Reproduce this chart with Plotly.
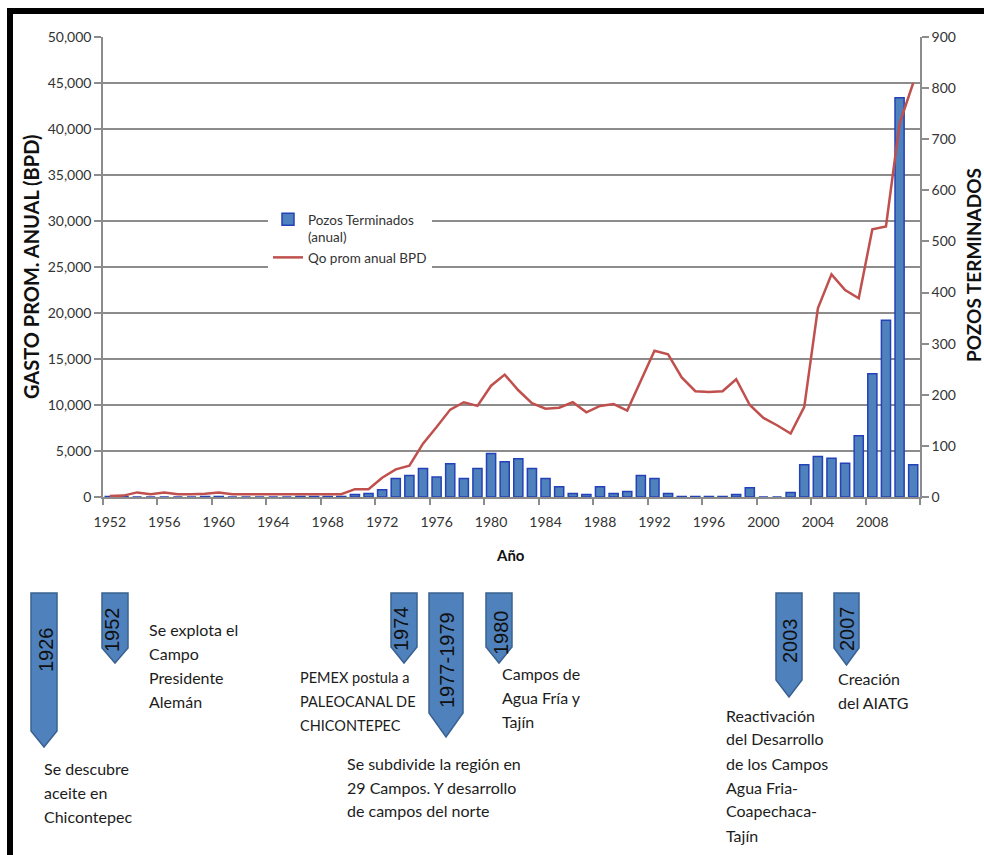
import plotly.graph_objects as go

# ---- Data -------------------------------------------------------------
years = list(range(1952, 2012))

# Average annual oil rate (BPD)
qo_bpd = [100, 150, 500, 300, 500, 300, 300, 350, 500, 300,
          300, 300, 300, 300, 300, 300, 300, 300, 850, 850,
          2100, 3000, 3400, 5800, 7600, 9500, 10300, 9900, 12100, 13300,
          11600, 10200, 9600, 9700, 10300, 9200, 9900, 10100, 9400, 12700,
          15900, 15500, 13000, 11500, 11400, 11500, 12800, 10000, 8600, 7800,
          6900, 9800, 20500, 24200, 22500, 21600, 29100, 29400, 40600, 45000]

# Wells completed per year
pozos = [1, 1, 0, 0, 0, 0, 0, 1, 1, 0,
         0, 0, 0, 0, 1, 1, 1, 1, 5, 7,
         14, 36, 42, 56, 39, 65, 36, 56, 85, 69,
         75, 56, 36, 20, 7, 5, 20, 7, 11, 42,
         36, 7, 1, 1, 1, 1, 5, 18, 0, 0,
         9, 63, 79, 76, 66, 120, 241, 346, 781, 63]

tick_years = list(range(1952, 2012, 4))

# Timeline milestones
milestone_years = ["1926", "1952", "1974", "1977-1979", "1980", "2003", "2007"]
milestone_notes = [
    ["Se descubre", "aceite en", "Chicontepec"],
    ["Se explota el", "Campo", "Presidente", "Alemán"],
    ["PEMEX postula a", "PALEOCANAL DE", "CHICONTEPEC"],
    ["Se subdivide la región en", "29 Campos. Y desarrollo", "de campos del norte"],
    ["Campos de", "Agua Fría y", "Tajín"],
    ["Reactivación", "del Desarrollo", "de los Campos", "Agua Fria-", "Coapechaca-", "Tajín"],
    ["Creación", "del AIATG"],
]

# ---- Layout geometry (pixels) ----------------------------------------
W, H = 984, 855
L, R, T, B = 103, 920, 37, 497

def px_x(x):
    return (x - L) / (R - L)

def px_y(y):
    return (B - y) / (B - T)

# arrow boxes: x0, x1, top, body bottom, tip
arrow_boxes = [
    (31, 57, 593, 731, 747),
    (102, 128, 593, 648, 663),
    (391, 417, 593, 647, 663),
    (429, 463, 593, 713, 737),
    (486, 512, 593, 647, 663),
    (776, 802, 593, 680, 697),
    (834, 859, 593, 648, 665),
]
year_text_pos = [(46, 650), (112, 630), (401, 629), (447, 660), (501, 633), (790, 641), (847, 629)]
note_pos = [(42, 768), (147, 629), (298, 677), (345, 763), (500, 673), (724, 715), (836, 678)]
note_size = [16, 16, 14.5, 16, 16, 16, 16]
note_step = 24

FONT = "Lato"
TXT = "#333333"
GRID = "#8c8c8c"
TICK_SIZE = 14

fig = go.Figure()

fig.add_trace(go.Bar(
    x=years, y=pozos, name="Pozos Terminados<br>(anual)",
    marker=dict(color="#4F81BD", line=dict(color="#2442B8", width=1.5)),
    yaxis="y",
))
fig.add_trace(go.Scatter(
    x=years, y=qo_bpd, name="Qo prom anual BPD", mode="lines",
    line=dict(color="#C0504D", width=2.5),
    yaxis="y2",
))

fig.update_layout(
    width=W, height=H,
    margin=dict(l=L, r=W - R, t=T, b=H - B),
    paper_bgcolor="white", plot_bgcolor="white",
    bargap=0.33,
    showlegend=True,
    font=dict(family=FONT, size=12, color=TXT),
    legend=dict(
        x=px_x(268), y=px_y(204), xanchor="left", yanchor="top",
        bgcolor="white", borderwidth=0,
        font=dict(family=FONT, size=13.5, color=TXT),
        tracegroupgap=0, valign="top",
    ),
    xaxis=dict(
        range=[1951.5, 2011.5],
        tickmode="array", tickvals=tick_years, ticktext=[str(y) for y in tick_years],
        ticks="outside", ticklen=11, tickcolor="rgba(0,0,0,0)",
        showline=True, linecolor=GRID, linewidth=1.5,
        showgrid=False, zeroline=False,
        minor=dict(tick0=1951.5, dtick=4, ticks="outside", ticklen=6,
                   tickcolor=GRID, tickwidth=1.5, showgrid=False),
        tickfont=dict(family=FONT, size=TICK_SIZE, color=TXT),
    ),
    yaxis=dict(
        side="right", range=[0, 900], dtick=100,
        showgrid=False, zeroline=False,
        showline=True, linecolor=GRID, linewidth=1.5,
        ticks="outside", ticklen=7, tickcolor=GRID, tickwidth=1.5,
        tickfont=dict(family=FONT, size=TICK_SIZE, color=TXT),
    ),
    yaxis2=dict(
        side="left", overlaying="y", range=[0, 50000], dtick=5000,
        tickformat=",d",
        showgrid=True, gridcolor=GRID, gridwidth=1.5, zeroline=False,
        showline=True, linecolor=GRID, linewidth=1.5,
        ticks="outside", ticklen=7, tickcolor=GRID, tickwidth=1.5,
        tickfont=dict(family=FONT, size=TICK_SIZE, color=TXT),
    ),
)

annotations = []
shapes = []

# axis titles
annotations.append(dict(
    x=px_x(31), y=px_y(267), xref="paper", yref="paper",
    text="<b>GASTO PROM. ANUAL (BPD)</b>", textangle=-90, showarrow=False,
    font=dict(family=FONT, size=20, color="#111111"),
    xanchor="center", yanchor="middle",
))
annotations.append(dict(
    x=px_x(973), y=px_y(265), xref="paper", yref="paper",
    text="<b>POZOS TERMINADOS</b>", textangle=-90, showarrow=False,
    font=dict(family=FONT, size=19, color="#111111"),
    xanchor="center", yanchor="middle",
))
annotations.append(dict(
    x=px_x(510), y=px_y(555), xref="paper", yref="paper",
    text="<b>Año</b>", showarrow=False,
    font=dict(family=FONT, size=15, color="#111111"),
    xanchor="center", yanchor="middle",
))

# timeline arrows with year labels and notes
for label, notes, box, tpos, npos, nsize in zip(milestone_years, milestone_notes,
                                                arrow_boxes, year_text_pos,
                                                note_pos, note_size):
    x0, x1, top, bot, tip = box
    xc = (x0 + x1) / 2
    path = (f"M {px_x(x0)},{px_y(top)} L {px_x(x1)},{px_y(top)} "
            f"L {px_x(x1)},{px_y(bot)} L {px_x(xc)},{px_y(tip)} "
            f"L {px_x(x0)},{px_y(bot)} Z")
    shapes.append(dict(type="path", path=path, xref="paper", yref="paper",
                       fillcolor="#4F81BD", line=dict(color="#3A6190", width=1.5),
                       layer="above"))
    annotations.append(dict(
        x=px_x(tpos[0]), y=px_y(tpos[1]), xref="paper", yref="paper",
        text=label, textangle=-90, showarrow=False,
        font=dict(family="Liberation Sans", size=20, color="#111111"),
        xanchor="center", yanchor="middle",
    ))
    for i, line in enumerate(notes):
        annotations.append(dict(
            x=px_x(npos[0]), y=px_y(npos[1] + i * note_step),
            xref="paper", yref="paper", text=line, showarrow=False,
            font=dict(family=FONT, size=nsize, color="#1c1c1c"),
            xanchor="left", yanchor="middle",
        ))

# black frame along top and left edges
shapes.append(dict(type="rect", xref="paper", yref="paper",
                   x0=px_x(7), x1=px_x(W + 2), y0=px_y(14), y1=px_y(8),
                   fillcolor="black", line=dict(width=0), layer="above"))
shapes.append(dict(type="rect", xref="paper", yref="paper",
                   x0=px_x(7), x1=px_x(13), y0=px_y(H + 2), y1=px_y(8),
                   fillcolor="black", line=dict(width=0), layer="above"))

fig.update_layout(annotations=annotations, shapes=shapes)

fig.write_html("out.html")
